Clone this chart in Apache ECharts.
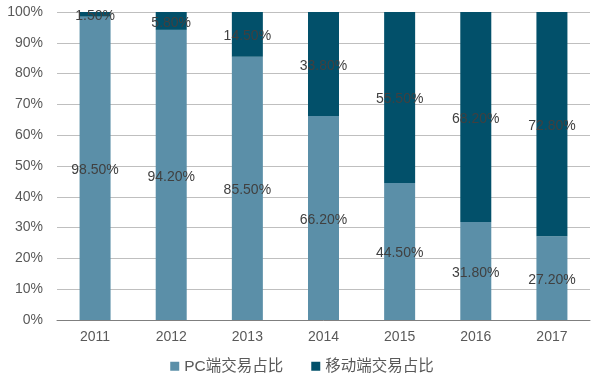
<!DOCTYPE html>
<html><head><meta charset="utf-8">
<script src="https://cdn.jsdelivr.net/npm/echarts@6/dist/echarts.min.js"></script>
<style>html,body{margin:0;padding:0;background:#fff}#c{width:604px;height:389px}</style>
</head><body><div id="c"></div>
<script>
const categories = ['2011','2012','2013','2014','2015','2016','2017'];
const pcShare = [98.5, 94.2, 85.5, 66.2, 44.5, 31.8, 27.2];
const mobileShare = [1.5, 5.8, 14.5, 33.8, 55.5, 68.2, 72.8];
const seriesNames = ['PC端交易占比', '移动端交易占比'];
const yTicks = [0, 10, 20, 30, 40, 50, 60, 70, 80, 90, 100];

const font = '"Liberation Sans", Arial, "Noto Sans CJK SC", sans-serif';
const chart = echarts.init(document.getElementById('c'), null, {renderer: 'canvas'});
const lbl = {
  show: true, position: 'inside', color: '#404040', fontSize: 14, fontFamily: font,
  offset: [0, 2],
  formatter: p => p.value.toFixed(2) + '%'
};
chart.setOption({
  animation: false,
  backgroundColor: '#fff',
  textStyle: {fontFamily: font},
  grid: {left: 57, right: 14, top: 12, bottom: 69, containLabel: false},
  legend: {
    bottom: 10, left: 'center', itemWidth: 9, itemHeight: 9, itemGap: 28,
    icon: 'rect',
    textStyle: {fontSize: 15.5, color: '#595959', fontFamily: font},
    data: seriesNames
  },
  xAxis: {
    type: 'category', data: categories,
    axisLine: {lineStyle: {color: '#7f7f7f', width: 1}},
    axisTick: {show: false},
    axisLabel: {color: '#595959', fontSize: 14, margin: 10, fontFamily: font}
  },
  yAxis: {
    type: 'value', min: yTicks[0], max: yTicks[yTicks.length-1], interval: 10,
    axisLine: {show: false}, axisTick: {show: false},
    axisLabel: {color: '#595959', fontSize: 14, margin: 14, formatter: '{value}%', fontFamily: font},
    splitLine: {lineStyle: {color: '#bfbfbf', width: 1}}
  },
  series: [
    {name: seriesNames[0], type: 'bar', stack: 's', data: pcShare, barWidth: 31,
     itemStyle: {color: '#5b8fa8'}, label: lbl},
    {name: seriesNames[1], type: 'bar', stack: 's', data: mobileShare, barWidth: 31,
     itemStyle: {color: '#02506a'}, label: lbl}
  ]
});
</script></body></html>
